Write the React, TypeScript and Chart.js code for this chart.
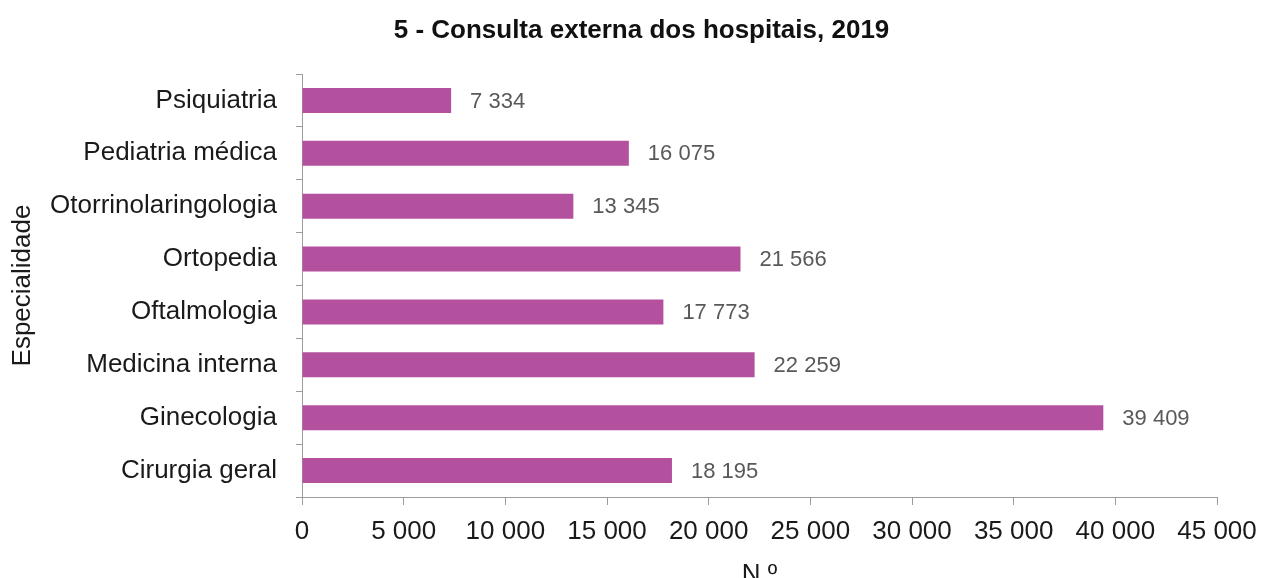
import React, { useEffect, useRef } from "react";
import { Chart, registerables } from "chart.js";

Chart.register(...registerables);

const TITLE = "5 - Consulta externa dos hospitais, 2019";
const CATEGORIES = [
  "Psiquiatria",
  "Pediatria médica",
  "Otorrinolaringologia",
  "Ortopedia",
  "Oftalmologia",
  "Medicina interna",
  "Ginecologia",
  "Cirurgia geral",
];
const VALUES = [7334, 16075, 13345, 21566, 17773, 22259, 39409, 18195];
const X_MIN = 0;
const X_MAX = 45000;
const X_STEP = 5000;
const X_TITLE = "N.º";
const Y_TITLE = "Especialidade";

const FONT = "'Liberation Sans', Arial, Helvetica, sans-serif";
const BAR_COLOR = "#B3519F";
const AXIS_COLOR = "#9c9c9c";

const fmt = (v: number) => String(Math.round(v)).replace(/\B(?=(\d{3})+(?!\d))/g, " ");

const valueLabels = {
  id: "valueLabels",
  afterDatasetsDraw(chart: any) {
    const { ctx } = chart;
    const meta = chart.getDatasetMeta(0);
    ctx.save();
    ctx.font = `22px ${FONT}`;
    ctx.fillStyle = "#595959";
    ctx.textAlign = "left";
    ctx.textBaseline = "middle";
    meta.data.forEach((bar: any, i: number) => {
      const v = chart.data.datasets[0].data[i] as number;
      ctx.fillText(fmt(v), bar.x + 19, bar.y + 1);
    });
    ctx.restore();
  },
};

export default function App() {
  const ref = useRef<HTMLCanvasElement | null>(null);

  useEffect(() => {
    if (!ref.current) return;
    const chart = new Chart(ref.current, {
      type: "bar",
      data: {
        labels: CATEGORIES,
        datasets: [
          {
            data: VALUES,
            backgroundColor: BAR_COLOR,
            borderWidth: 0,
            barPercentage: 0.473,
            categoryPercentage: 1,
          },
        ],
      },
      options: {
        indexAxis: "y",
        responsive: false,
        animation: false,
        layout: { padding: { left: 19, right: 0, top: 0, bottom: 0 } },
        plugins: {
          legend: { display: false },
          tooltip: { enabled: false },
          title: {
            display: true,
            text: TITLE,
            color: "#111",
            font: { family: FONT, size: 26, weight: "bold", lineHeight: 1.2 },
            padding: { top: 15, bottom: 27.8 },
          },
        },
        scales: {
          x: {
            type: "linear",
            min: X_MIN,
            max: X_MAX,
            afterFit: (s: any) => {
              s.height = 81;
              s.paddingRight = 47;
            },
            ticks: {
              stepSize: X_STEP,
              color: "#1a1a1a",
              padding: 11,
              font: { family: FONT, size: 26 },
              callback: (v: any) => fmt(Number(v)),
              maxRotation: 0,
            },
            grid: {
              display: true,
              drawOnChartArea: false,
              drawTicks: true,
              tickLength: 8,
              color: AXIS_COLOR,
            },
            border: { display: true, color: AXIS_COLOR, width: 1 },
            title: {
              display: true,
              text: X_TITLE,
              color: "#1a1a1a",
              font: { family: FONT, size: 26, lineHeight: 1.2 },
              padding: { top: 0, bottom: -12 },
            },
          },
          y: {
            type: "category",
            afterFit: (s: any) => {
              s.width = 283;
            },
            ticks: {
              color: "#1a1a1a",
              padding: 19,
              font: { family: FONT, size: 26 },
            },
            grid: {
              display: true,
              offset: true,
              drawOnChartArea: false,
              drawTicks: true,
              tickLength: 6,
              color: AXIS_COLOR,
            },
            border: { display: true, color: AXIS_COLOR, width: 1 },
            title: {
              display: true,
              text: Y_TITLE,
              color: "#1a1a1a",
              font: { family: FONT, size: 26, lineHeight: 1.2 },
              padding: { top: -11.6, bottom: 0 },
            },
          },
        },
      },
      plugins: [valueLabels],
    });
    return () => chart.destroy();
  }, []);

  return (
    <div style={{ position: "fixed", left: 0, top: 0, width: 1264, height: 578, background: "#fff" }}>
      <canvas ref={ref} width={1264} height={578} style={{ display: "block", width: 1264, height: 578 }} />
    </div>
  );
}
